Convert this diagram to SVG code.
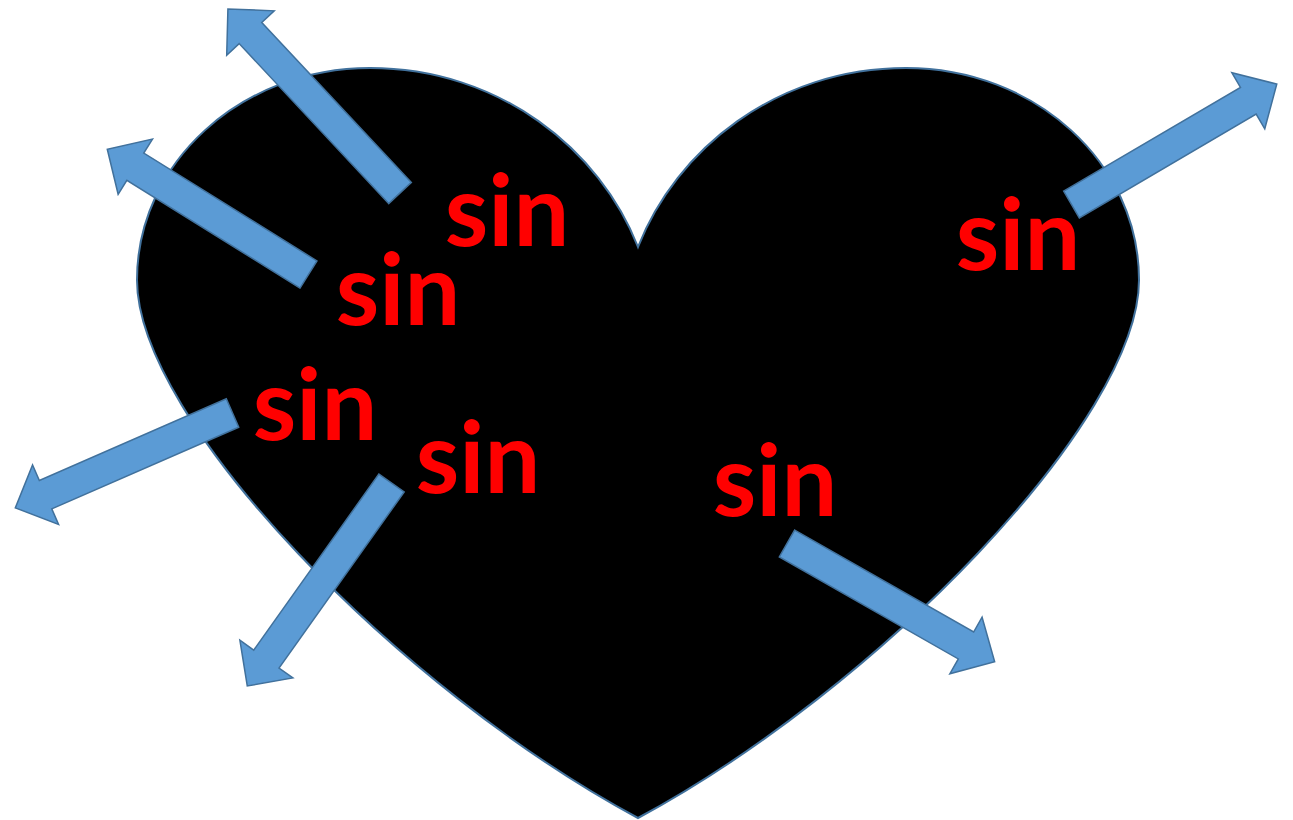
<svg xmlns="http://www.w3.org/2000/svg" width="1293" height="820" viewBox="0 0 1293 820">
<style>
.heart{fill:#000;stroke:#41719C;stroke-width:2}
.arrow{fill:#5B9BD5;stroke:#41719C;stroke-width:1.5;stroke-linejoin:miter}
.lbl{fill:#FF0000;font-family:Lato,"Open Sans","Liberation Sans",sans-serif;font-weight:bold;font-size:99px;text-anchor:middle}
</style>
<g id="heart">
<path class="heart" d="M638,247 C600,150 500,68 370,68 C241,68 137,163 137,280 C137,420 400,690 638,818 C876,690 1139,420 1139,280 C1139,163 1035,68 906,68 C776,68 676,150 638,247 Z"/>
</g>
<g id="connectors">
<path class="arrow" transform="translate(400,193) rotate(-133.07)" d="M0,-15.5 L219,-15.5 L219,-32.5 L252,0 L219,32.5 L219,15.5 L0,15.5 Z"/>
<path class="arrow" transform="translate(308.5,274.5) rotate(-148.1)" d="M0,-16 L204,-16 L204,-32.5 L237,0 L204,32.5 L204,16 L0,16 Z"/>
<path class="arrow" transform="translate(232.5,413) rotate(156.4)" d="M0,-15.5 L204,-15.5 L204,-32.5 L237,0 L204,32.5 L204,15.5 L0,15.5 Z"/>
<path class="arrow" transform="translate(391.5,483) rotate(125.4)" d="M0,-15.5 L216,-15.5 L216,-32.5 L249,0 L216,32.5 L216,15.5 L0,15.5 Z"/>
<path class="arrow" transform="translate(787,543.5) rotate(29.67)" d="M0,-15.5 L206,-15.5 L206,-32.5 L239,0 L206,32.5 L206,15.5 L0,15.5 Z"/>
<path class="arrow" transform="translate(1071.5,204.5) rotate(-30.4)" d="M0,-15.5 L205,-15.5 L205,-32.5 L238,0 L205,32.5 L205,15.5 L0,15.5 Z"/>
</g>
<g id="label1"><text class="lbl" x="507" y="246">sin</text></g>
<g id="label2"><text class="lbl" x="398" y="325">sin</text></g>
<g id="label3"><text class="lbl" x="315" y="440">sin</text></g>
<g id="label4"><text class="lbl" x="478" y="493">sin</text></g>
<g id="label5"><text class="lbl" x="775" y="516">sin</text></g>
<g id="label6"><text class="lbl" x="1018" y="270">sin</text></g>
</svg>
